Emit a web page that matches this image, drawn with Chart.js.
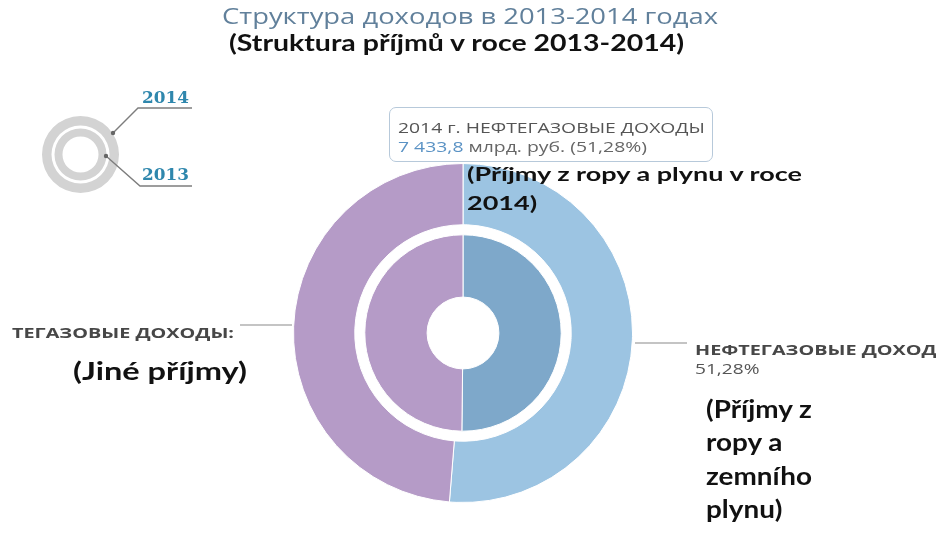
<!DOCTYPE html>
<html><head><meta charset="utf-8">
<script src="https://cdn.jsdelivr.net/npm/chart.js@4.4.1/dist/chart.umd.min.js"></script>
<style>
html,body{margin:0;padding:0;width:936px;height:538px;overflow:hidden;background:#fff;}
#stage{position:relative;width:936px;height:538px;overflow:hidden;}
.t{position:absolute;white-space:nowrap;line-height:1;display:inline-block;transform-origin:0 0;}
canvas{position:absolute;}
#tip{position:absolute;left:389px;top:107px;width:324px;height:55px;border:1px solid #b7c9da;border-radius:7px;background:rgba(255,255,255,0.92);box-sizing:border-box;}
</style></head><body>
<div id="stage">
<canvas id="legendIcon" width="77" height="77" style="left:42px;top:116px"></canvas>
<canvas id="main" width="340" height="340" style="left:293px;top:163px"></canvas>
<svg id="lines" width="936" height="538" style="position:absolute;left:0;top:0">
  <polyline points="113,133 138,108 192,108" fill="none" stroke="#7d7d7d" stroke-width="1.4"/>
  <polyline points="106,156 140,186 192,186" fill="none" stroke="#7d7d7d" stroke-width="1.4"/>
  <circle cx="113" cy="133" r="2.2" fill="#666"/>
  <circle cx="106" cy="156" r="2.2" fill="#666"/>
  <line x1="240" y1="325" x2="292" y2="325" stroke="#b0b0b0" stroke-width="1.5"/>
  <line x1="635" y1="343" x2="687" y2="343" stroke="#b0b0b0" stroke-width="1.5"/>
</svg>
<div id="tip"></div>
</div>
<script>
// ---- data ----
const categories = ['НЕФТЕГАЗОВЫЕ ДОХОДЫ', 'НЕНЕФТЕГАЗОВЫЕ ДОХОДЫ'];
const years = ['2014', '2013'];
const values2014 = [7433.8, 7063.1];   // млрд. руб.
const values2013 = [6534.0, 6485.9];   // млрд. руб.
const oilGasShare2014 = '51,28%';
const oilGasValue2014 = '7 433,8';

// ---- colours ----
const purple = '#b59bc7';
const blueLight = '#9cc4e2';
const blueDark = '#7ea8ca';
const grey = '#d3d3d3';

Chart.defaults.animation = false;

new Chart(document.getElementById('main'), {
  type: 'doughnut',
  data: {
    labels: categories,
    datasets: [
      { label: years[0], data: values2014, backgroundColor: [blueLight, purple], borderColor: '#ffffff', borderWidth: 1, weight: 61 },
      { label: 'gap', data: [1], backgroundColor: 'rgba(0,0,0,0)', borderColor: 'rgba(0,0,0,0)', borderWidth: 1, weight: 10 },
      { label: years[1], data: values2013, backgroundColor: [blueDark, purple], borderColor: '#ffffff', borderWidth: 1, weight: 62 }
    ]
  },
  options: {
    responsive: false, maintainAspectRatio: false, events: [],
    cutout: '21.2%', hoverOffset: 0, offset: 0,
    layout: { padding: 0 },
    plugins: { legend: { display: false }, tooltip: { enabled: false }, title: { display: false } }
  }
});

new Chart(document.getElementById('legendIcon'), {
  type: 'doughnut',
  data: {
    labels: ['x'],
    datasets: [
      { label: years[0], data: [1], backgroundColor: grey, borderWidth: 0, weight: 9.5 },
      { label: 'gap', data: [1], backgroundColor: 'rgba(0,0,0,0)', borderWidth: 0, weight: 3 },
      { label: years[1], data: [1], backgroundColor: grey, borderWidth: 0, weight: 8 }
    ]
  },
  options: {
    responsive: false, maintainAspectRatio: false, events: [],
    cutout: '46.8%', hoverOffset: 0, offset: 0,
    plugins: { legend: { display: false }, tooltip: { enabled: false } }
  }
});

// ---- text ----
const stage = document.getElementById('stage');
const OS = "'Open Sans', sans-serif";
const CZ = "Lato, 'Open Sans', sans-serif";
const SER = "'DejaVu Serif', serif";
const ASC = { [OS]: 0.888, [CZ]: 0.887, [SER]: 0.846 };

function span(html, family, weight, color, size) {
  const s = document.createElement('span');
  s.className = 't';
  s.innerHTML = html;
  s.style.fontFamily = family;
  s.style.fontWeight = weight;
  s.style.color = color;
  s.style.fontSize = size + 'px';
  stage.appendChild(s);
  return s;
}
// text with given font size, stretched horizontally to span [x0, x1], baseline at by
function put(html, family, weight, color, size, x0, x1, by) {
  const s = span(html, family, weight, color, size);
  const w = s.getBoundingClientRect().width;
  const sx = (x1 - x0) / w;
  s.style.transform = 'scaleX(' + sx + ')';
  s.style.left = x0 + 'px';
  s.style.top = (by - ASC[family] * size) + 'px';
  return sx;
}
function putScaled(html, family, weight, color, size, sx, x0, by) {
  const s = span(html, family, weight, color, size);
  s.style.transform = 'scaleX(' + sx + ')';
  s.style.left = x0 + 'px';
  s.style.top = (by - ASC[family] * size) + 'px';
}

put('Структура доходов в 2013-2014 годах', OS, 400, '#61809b', 21, 222, 718, 25);
put('(Struktura příjmů v roce 2013-2014)', CZ, 700, '#111', 23, 229, 684, 51);

put(years[0], SER, 700, '#2f87ad', 17, 142, 189, 103);
put(years[1], SER, 700, '#2f87ad', 17, 142, 189, 180);

put('2014 г. ' + categories[0], OS, 400, '#555', 14, 398, 705, 133);
put('<span style="color:#5a92c4">' + oilGasValue2014 + '</span> млрд. руб. (' + oilGasShare2014 + ')', OS, 400, '#666', 14, 398, 647, 152);

const sxTip = put('(Příjmy z ropy a plynu v roce', CZ, 700, '#111', 18.5, 467, 802, 181);
putScaled('2014)', CZ, 700, '#111', 18.5, sxTip, 467, 210);

// left label (text cropped at image edge in the original)
const sxLab = put('ТЕГАЗОВЫЕ ДОХОДЫ:', OS, 700, '#474747', 14.5, 12, 234, 339);
putScaled('НЕФТЕГАЗОВЫЕ ДОХОД', OS, 700, '#474747', 14.5, sxLab, 695, 356);
putScaled(oilGasShare2014, OS, 400, '#555', 14, sxLab, 695, 374);

put('(Jiné příjmy)', CZ, 700, '#111', 24, 73, 247, 380);

const czR = ['(Příjmy z', 'ropy a', 'zemního', 'plynu)'];
const czRb = [418, 451, 485, 518];
const sxR = put(czR[2], CZ, 700, '#111', 24, 706, 812, czRb[2]);
[0, 1, 3].forEach(i => putScaled(czR[i], CZ, 700, '#111', 24, sxR, 706, czRb[i]));
</script>
</body></html>
